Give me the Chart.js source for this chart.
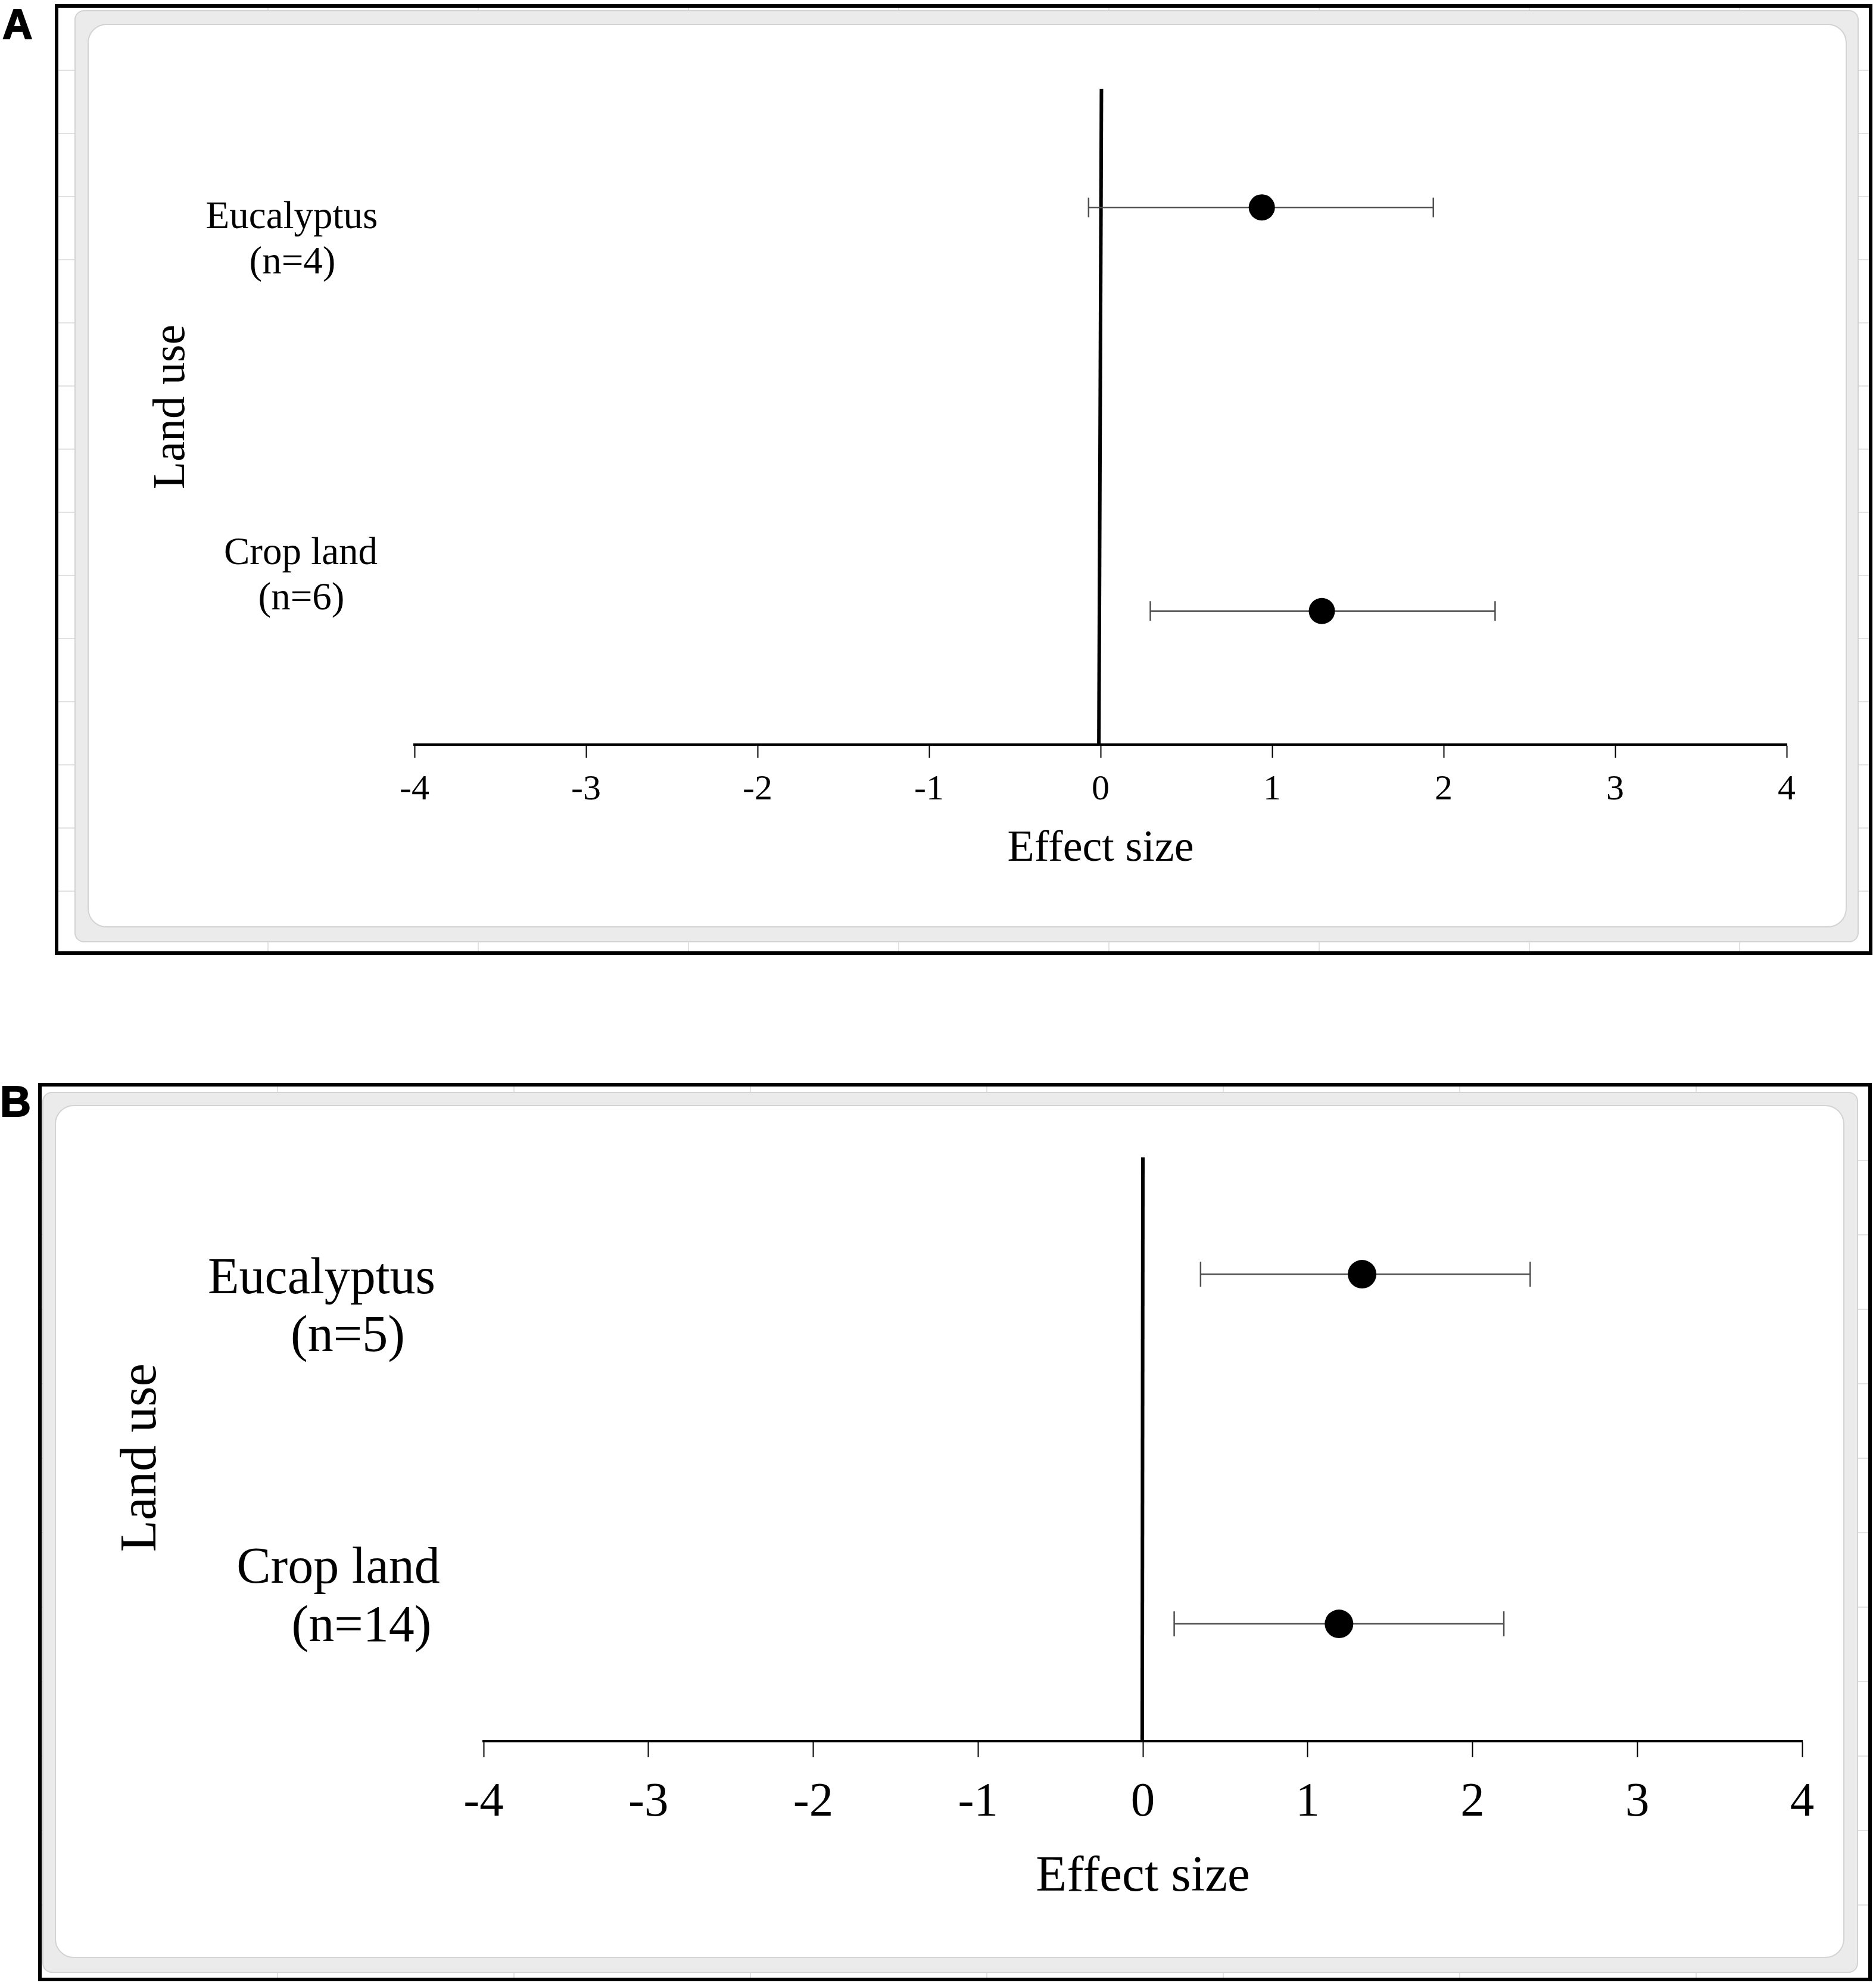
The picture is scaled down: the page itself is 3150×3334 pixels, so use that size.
<!DOCTYPE html>
<html>
<head>
<meta charset="utf-8">
<script src="https://cdn.jsdelivr.net/npm/chart.js@4.4.1/dist/chart.umd.min.js"></script>
<style>
    body { margin: 0; width: 3150px; height: 3334px; background: #fff; position: relative; overflow: hidden; }
    .frame { position: absolute; box-sizing: border-box; border: 6px solid #000; }
    .band { position: absolute; box-sizing: border-box; background: #ebebeb; border: 2px solid #d3d3d3; border-radius: 16px; }
    .inner { position: absolute; box-sizing: border-box; background: #fff; border: 2px solid #d3d3d3; border-radius: 32px; }
    .tag { position: absolute; font-family: "Liberation Sans", Arial, sans-serif; font-weight: 900; line-height: 1; -webkit-text-stroke: 2px #000; }
    canvas { position: absolute; left: 0; }
</style>
</head>
<body>

<div class="tag" style="left:4px; top:6px; font-size:70px;">A</div>
<div class="frame" style="left:92px; top:7px; width:3052px; height:1596px;
     background-image: repeating-linear-gradient(to bottom, transparent 0 104px, #e2e2e2 104px 106px),
                       repeating-linear-gradient(to right, transparent 0 351px, #e2e2e2 351px 353px);"></div>
<div class="band" style="left:125px; top:17px; width:2996px; height:1565px;"></div>
<div class="inner" style="left:147px; top:40px; width:2954px; height:1517px;"></div>

<div class="tag" style="left:0px; top:1813px; font-size:72px;">B</div>
<div class="frame" style="left:64px; top:1818px; width:3079px; height:1508px;
     background-image: repeating-linear-gradient(to bottom, transparent 0 123px, #e2e2e2 123px 125px),
                       repeating-linear-gradient(to right, transparent 0 395px, #e2e2e2 395px 397px);"></div>
<div class="band" style="left:71px; top:1833px; width:3049px; height:1479px;"></div>
<div class="inner" style="left:92px; top:1855px; width:3005px; height:1432px;"></div>

<canvas id="chartA" width="3150" height="1610" style="top:0px;"></canvas>
<canvas id="chartB" width="3150" height="1724" style="top:1610px;"></canvas>

<script>
// Data
const landUse = ['Eucalyptus', 'Crop land'];
const rowPos = [3, 1];
const xTicks = [-4, -3, -2, -1, 0, 1, 2, 3, 4];

// Panel A
const countsA = [4, 6];
const effectA = [0.94, 1.29];
const lowerA = [-0.07, 0.29];
const upperA = [1.94, 2.30];
const zeroLineXA = [-0.01, 0.005];

// Panel B
const countsB = [5, 14];
const effectB = [1.33, 1.19];
const lowerB = [0.35, 0.19];
const upperB = [2.35, 2.19];
const zeroLineXB = [-0.004, 0];

const serif = '"Liberation Serif", "Times New Roman", serif';

// Text boxes next to the plot (category names, n, vertical title)
const panelText = {
    id: 'panelText',
    afterDraw(chart, args, opts) {
        const ctx = chart.ctx;
        ctx.save();
        ctx.fillStyle = '#000';
        ctx.textAlign = 'center';
        ctx.textBaseline = 'alphabetic';
        ctx.font = opts.labelSize + 'px ' + serif;
        opts.names.forEach((name, i) => {
            const p = opts.labelPos[i];
            ctx.fillText(name, p[0], p[1]);
            ctx.fillText('(n=' + opts.counts[i] + ')', p[2], p[3]);
        });
        ctx.translate(opts.titleX, opts.titleY);
        ctx.rotate(-Math.PI / 2);
        ctx.font = opts.titleSize + 'px ' + serif;
        ctx.fillText(opts.title, 0, 0);
        ctx.restore();
    }
};

function makePanel(id, p) {
    const datasets = [];

    // markers
    datasets.push({
        data: rowPos.map((y, i) => ({ x: p.effect[i], y: y })),
        pointRadius: p.dot,
        pointBackgroundColor: '#000',
        pointBorderWidth: 0,
        showLine: false
    });

    // confidence intervals with end caps
    rowPos.forEach((y, i) => {
        datasets.push({
            data: [{ x: p.lower[i], y: y }, { x: p.upper[i], y: y }],
            showLine: true,
            borderColor: '#505050',
            borderWidth: 2.5,
            pointStyle: 'line',
            rotation: 90,
            pointRadius: p.cap,
            pointBorderColor: '#505050',
            pointBorderWidth: 2.5
        });
    });

    // vertical line at zero
    datasets.push({
        data: [{ x: p.zeroX[0], y: p.yMin }, { x: p.zeroX[1], y: p.yMax }],
        showLine: true,
        borderColor: '#000',
        borderWidth: 6,
        pointRadius: 0
    });

    return new Chart(document.getElementById(id), {
        type: 'scatter',
        data: { datasets: datasets },
        options: {
            responsive: false,
            animation: false,
            devicePixelRatio: 1,
            events: [],
            layout: { padding: p.padding },
            scales: {
                x: {
                    type: 'linear',
                    min: -4,
                    max: 4,
                    afterBuildTicks: (scale) => { scale.ticks = xTicks.map(v => ({ value: v })); },
                    afterFit: (scale) => { scale.height = p.axisHeight; },
                    border: { display: true, color: '#000', width: 4 },
                    grid: {
                        display: true,
                        drawOnChartArea: false,
                        drawTicks: true,
                        tickLength: p.tickLength,
                        tickWidth: 2,
                        tickColor: '#000'
                    },
                    ticks: {
                        color: '#000',
                        padding: p.tickPad,
                        maxRotation: 0,
                        font: { family: serif, size: p.tickSize }
                    },
                    title: {
                        display: true,
                        text: 'Effect size',
                        color: '#000',
                        padding: 0,
                        font: { family: serif, size: p.xTitleSize }
                    }
                },
                y: {
                    type: 'linear',
                    display: false,
                    min: p.yMin,
                    max: p.yMax
                }
            },
            plugins: {
                legend: { display: false },
                tooltip: { enabled: false },
                panelText: {
                    names: landUse,
                    counts: p.counts,
                    labelPos: p.labelPos,
                    labelSize: p.labelSize,
                    title: 'Land use',
                    titleX: p.titleX,
                    titleY: p.titleY,
                    titleSize: p.titleSize
                }
            }
        },
        plugins: [panelText]
    });
}

makePanel('chartA', {
    effect: effectA, lower: lowerA, upper: upperA, counts: countsA, zeroX: zeroLineXA,
    yMin: 0.338, yMax: 3.588,
    padding: { left: 696, right: 150, top: 149, bottom: 140 },
    axisHeight: 220, tickLength: 22, tickPad: 18, tickSize: 60, xTitleSize: 74,
    dot: 22, cap: 16.5,
    labelSize: 65,
    labelPos: [[490, 383, 491, 459], [505, 947, 506, 1023]],
    titleX: 309, titleY: 683, titleSize: 76
});

makePanel('chartB', {
    effect: effectB, lower: lowerB, upper: upperB, counts: countsB, zeroX: zeroLineXB,
    yMin: 0.329, yMax: 3.668,
    padding: { left: 812, right: 124, top: 333, bottom: 131 },
    axisHeight: 280, tickLength: 27, tickPad: 28, tickSize: 81, xTitleSize: 85,
    dot: 24, cap: 21,
    labelSize: 86,
    labelPos: [[540, 561, 584, 658], [568, 1047, 607, 1145]],
    titleX: 261, titleY: 837, titleSize: 87
});
</script>
</body>
</html>
